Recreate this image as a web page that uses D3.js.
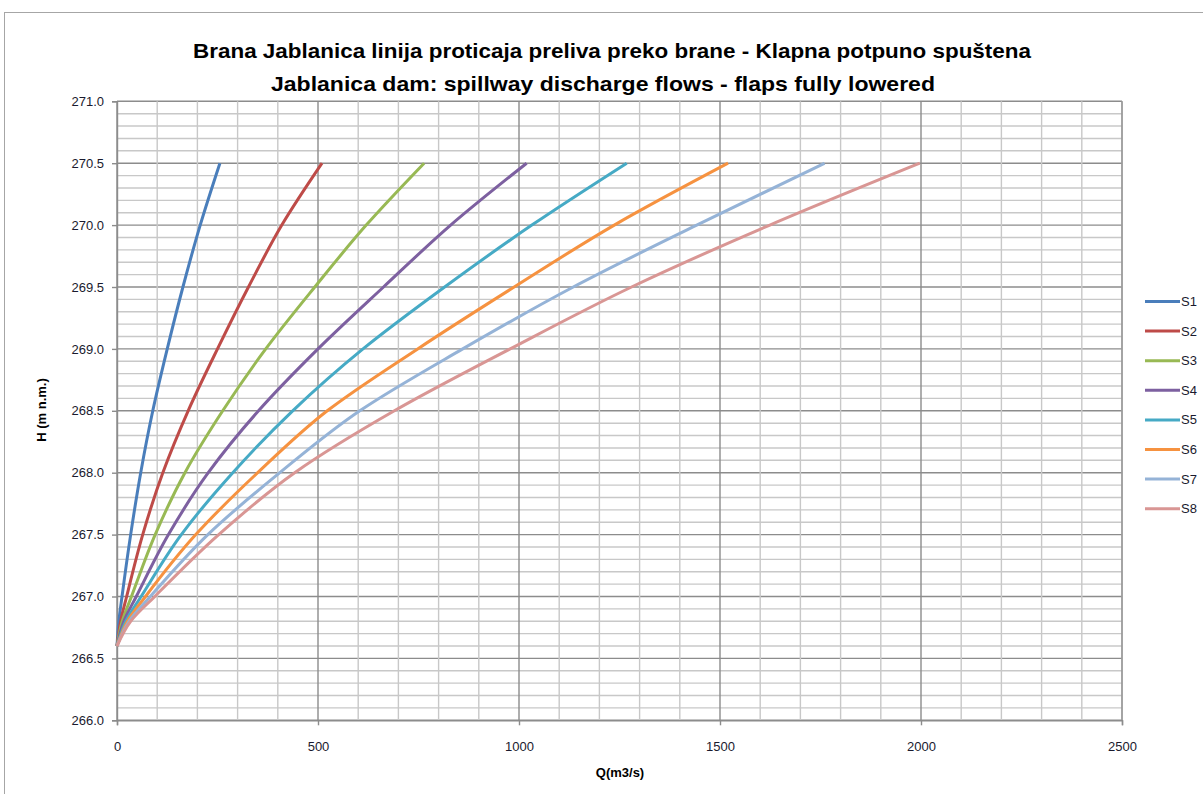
<!DOCTYPE html>
<html lang="en">
<head>
<meta charset="utf-8">
<title>Jablanica spillway discharge</title>
<script src="https://d3js.org/d3.v7.min.js"></script>
<style>
    body { margin: 0; background: #fff; }
    text { font-family: "Liberation Sans", Arial, sans-serif; }
</style>
</head>
<body>
<script>
    "use strict";

    // water level H (m n.m.) shared by all series
    let levels = [266.6, 266.8, 267.0, 267.5, 268.0, 268.5, 269.0, 269.5, 270.0, 270.5];

    // discharge Q (m3/s) for each series
    let S1 = [0, 4.6, 12.5, 34, 59, 89, 125, 164, 207, 256];
    let S2 = [0, 9, 24, 64, 114, 177, 250, 327, 410, 510];
    let S3 = [0, 13, 36, 95, 169, 263, 370, 492, 620, 764];
    let S4 = [0, 17, 48, 128, 227, 352, 500, 663, 830, 1019];
    let S5 = [0, 22, 60, 160, 288, 437, 612, 815, 1032, 1268];
    let S6 = [0, 26, 71, 196, 350, 523, 748, 988, 1237, 1520];
    let S7 = [0, 30, 83, 226, 405, 604, 860, 1135, 1442, 1760];
    let S8 = [0, 34, 94, 253, 442, 690, 978, 1280, 1624, 1997];

    let seriesNames = ["S1", "S2", "S3", "S4", "S5", "S6", "S7", "S8"];
    let seriesValues = [S1, S2, S3, S4, S5, S6, S7, S8];
    let colors = ["#4A7EBB", "#BE4B48", "#98B954", "#7D60A0", "#46AAC5", "#F69240", "#95B3D7", "#D99694"];

    let xTicks = [0, 500, 1000, 1500, 2000, 2500];
    let titleLines = [
        "Brana Jablanica  linija proticaja preliva preko brane - Klapna potpuno  spuštena",
        "Jablanica dam: spillway discharge flows - flaps fully lowered"
    ];

    let w = 1203, h = 794;

    let svg = d3.select("body").append("svg")
        .attr("width", w)
        .attr("height", h);

    // chart frame
    svg.append("rect")
        .attr("x", 4.5).attr("y", 12.5)
        .attr("width", w + 20).attr("height", h + 20)
        .attr("fill", "#fff")
        .attr("stroke", "#a6a6a6")
        .attr("stroke-width", 1);

    let x = d3.scaleLinear().domain([0, 2500]).range([117, 1122]);
    let y = d3.scaleLinear().domain([266, 271]).range([720.3, 101.3]);

    // gridlines
    let grid = svg.append("g");
    let xMinor = d3.range(0, 2501, 100);
    let yMinor = d3.range(0, 51).map(function(i) { return 266 + i / 10; });

    grid.selectAll(".hgrid")
        .data(yMinor)
        .enter()
        .append("line")
        .attr("x1", x(0)).attr("x2", x(2500))
        .attr("y1", function(d) { return y(d); })
        .attr("y2", function(d) { return y(d); })
        .attr("stroke", function(d, i) { return i % 5 === 0 ? "#8c8c8c" : "#c8c8c8"; })
        .attr("stroke-width", 1.4);

    grid.selectAll(".vgrid")
        .data(xMinor)
        .enter()
        .append("line")
        .attr("y1", y(266)).attr("y2", y(271))
        .attr("x1", function(d) { return x(d); })
        .attr("x2", function(d) { return x(d); })
        .attr("stroke", function(d) { return d % 500 === 0 ? "#8c8c8c" : "#c8c8c8"; })
        .attr("stroke-width", 1.4);

    // right edge of plot area
    grid.append("line")
        .attr("x1", x(2500)).attr("x2", x(2500))
        .attr("y1", y(266)).attr("y2", y(271))
        .attr("stroke", "#a0a0a0").attr("stroke-width", 1.4);

    // axes
    let yAxis = svg.append("g")
        .attr("transform", "translate(" + x(0) + ",0)")
        .call(d3.axisLeft(y)
            .tickValues(d3.range(0, 11).map(function(i) { return 266 + i / 2; }))
            .tickFormat(d3.format(".1f"))
            .tickSize(5)
            .tickPadding(8));

    let xAxis = svg.append("g")
        .attr("transform", "translate(0," + y(266) + ")")
        .call(d3.axisBottom(x)
            .tickValues(xTicks)
            .tickFormat(d3.format("d"))
            .tickSize(5)
            .tickPadding(16));

    [yAxis, xAxis].forEach(function(a) {
        a.select(".domain").attr("stroke", "#8c8c8c").attr("stroke-width", 1.4);
        a.selectAll(".tick line").attr("stroke", "#8c8c8c").attr("stroke-width", 1.4);
        a.selectAll(".tick text")
            .style("font-family", "'Liberation Sans', Arial, sans-serif")
            .style("font-size", "13px")
            .attr("fill", "#1a1a2e");
    });

    // series lines (H rises steadily, so interpolate along y)
    let line = d3.line()
        .x(function(d) { return x(d.q); })
        .y(function(d) { return y(d.h); })
        .curve(d3.curveMonotoneY);

    let series = seriesNames.map(function(name, i) {
        return {
            name: name,
            color: colors[i],
            points: seriesValues[i].map(function(q, j) { return { q: q, h: levels[j] }; })
        };
    });

    svg.append("g").selectAll("path")
        .data(series)
        .enter()
        .append("path")
        .attr("d", function(d) { return line(d.points); })
        .attr("fill", "none")
        .attr("stroke", function(d) { return d.color; })
        .attr("stroke-width", 3)
        .attr("stroke-linejoin", "round");

    // legend
    let legend = svg.append("g").selectAll("g")
        .data(series)
        .enter()
        .append("g")
        .attr("transform", function(d, i) { return "translate(1145," + (301.5 + i * 29.6) + ")"; });

    legend.append("line")
        .attr("x1", 0).attr("x2", 35)
        .attr("stroke", function(d) { return d.color; })
        .attr("stroke-width", 3);

    legend.append("text")
        .attr("x", 36).attr("dy", "0.35em")
        .style("font-size", "13px")
        .attr("fill", "#1a1a2e")
        .text(function(d) { return d.name; });

    // titles
    svg.append("text")
        .attr("x", 612).attr("y", 58)
        .attr("text-anchor", "middle")
        .attr("textLength", 838).attr("lengthAdjust", "spacingAndGlyphs")
        .style("font-family", "'Liberation Sans Narrow', 'Liberation Sans', sans-serif")
        .style("font-size", "21px").style("font-weight", "bold")
        .text(titleLines[0]);

    svg.append("text")
        .attr("x", 603).attr("y", 91)
        .attr("text-anchor", "middle")
        .attr("textLength", 664).attr("lengthAdjust", "spacingAndGlyphs")
        .style("font-family", "'Liberation Sans Narrow', 'Liberation Sans', sans-serif")
        .style("font-size", "21px").style("font-weight", "bold")
        .text(titleLines[1]);

    // axis titles
    svg.append("text")
        .attr("transform", "translate(46,410) rotate(-90)")
        .attr("text-anchor", "middle")
        .style("font-size", "13px").style("font-weight", "bold")
        .text("H (m n.m.)");

    svg.append("text")
        .attr("x", 620).attr("y", 777)
        .attr("text-anchor", "middle")
        .style("font-size", "13px").style("font-weight", "bold")
        .text("Q(m3/s)");
</script>
</body>
</html>
